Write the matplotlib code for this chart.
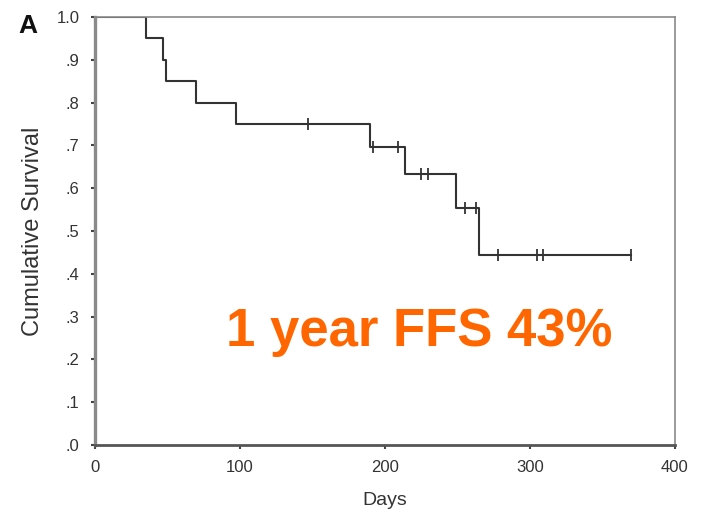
import matplotlib
matplotlib.use("Agg")
import matplotlib.pyplot as plt

# Kaplan-Meier step curve
step_days = [0, 35, 47, 49, 70, 97, 190, 214, 249, 265, 370]
step_surv = [1.0, 0.95, 0.90, 0.85, 0.80, 0.75, 0.696, 0.633, 0.554, 0.443, 0.443]

# censored observations
cens_days = [147, 192, 209, 225, 230, 255, 263, 278, 305, 309, 370]
cens_surv = [0.75, 0.696, 0.696, 0.633, 0.633, 0.554, 0.554, 0.443, 0.443, 0.443, 0.443]

y_ticks = [0, 0.1, 0.2, 0.3, 0.4, 0.5, 0.6, 0.7, 0.8, 0.9, 1.0]
y_labels = [".0", ".1", ".2", ".3", ".4", ".5", ".6", ".7", ".8", ".9", "1.0"]
x_ticks = [0, 100, 200, 300, 400]

plt.rcParams['font.family'] = ['Liberation Sans', 'DejaVu Sans']

fig = plt.figure(figsize=(7.02, 5.14), dpi=100)
ax = fig.add_axes([0.1353, 0.1342, 0.8262, 0.8328])

line_col = "#333333"
ax.step(step_days, step_surv, where="post", color=line_col, lw=1.5)
ax.plot(cens_days, cens_surv, ls="none", marker="|", color=line_col,
        markersize=8, mew=1.3)

ax.set_xlim(0, 400)
ax.set_ylim(0, 1.0)
ax.set_xticks(x_ticks)
ax.set_yticks(y_ticks)
ax.set_yticklabels(y_labels)
ax.tick_params(axis="both", labelsize=12, colors="#444444", length=3, width=1.5,
               direction="out", labelcolor="#333333")
ax.tick_params(axis="y", pad=8)
ax.tick_params(axis="x", pad=8)

for s in ax.spines.values():
    s.set_color("#8a8a8a")
    s.set_linewidth(1.2)
ax.spines["left"].set_linewidth(2.4)
ax.spines["bottom"].set_linewidth(2.0)
ax.spines["bottom"].set_color("#555555")

ax.set_xlabel("Days", fontsize=14, color="#333333", labelpad=12)
ax.set_ylabel("Cumulative Survival", fontsize=17, color="#333333", labelpad=9)

fig.text(0.026, 0.936, "A", fontsize=19, fontweight="bold", color="#111111")
ax.text(0.226, 0.231, "1 year FFS 43%", transform=ax.transAxes, fontsize=38,
        fontweight="bold", color="#ff6600", va="baseline")

fig.savefig("out.png", dpi=100)
